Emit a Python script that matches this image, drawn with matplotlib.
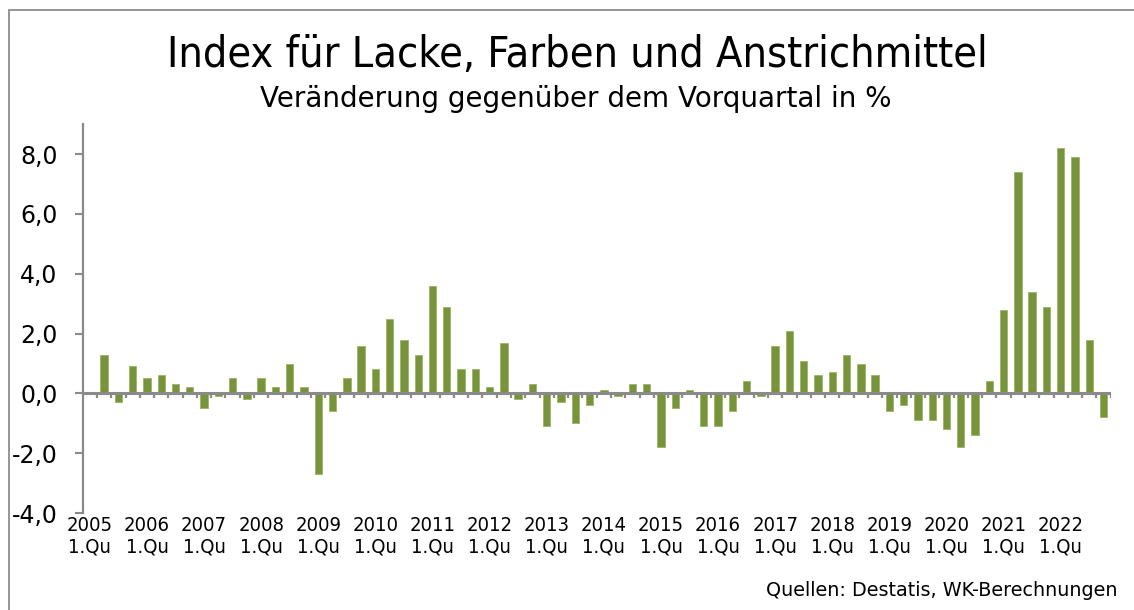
import numpy as np
import matplotlib
matplotlib.use("Agg")
import matplotlib.pyplot as plt
from matplotlib.patches import Rectangle

# ---- data -------------------------------------------------------------
years = list(range(2005, 2023))
quarters = ["1.Qu", "2.Qu", "3.Qu", "4.Qu"]
# Veränderung gegenüber dem Vorquartal in % (2005 1.Qu: keine Angabe)
values_2005 = [np.nan, 1.3, -0.3, 0.9]
values_2006 = [0.5, 0.6, 0.3, 0.2]
values_2007 = [-0.5, -0.1, 0.5, -0.2]
values_2008 = [0.5, 0.2, 1.0, 0.2]
values_2009 = [-2.7, -0.6, 0.5, 1.6]
values_2010 = [0.8, 2.5, 1.8, 1.3]
values_2011 = [3.6, 2.9, 0.8, 0.8]
values_2012 = [0.2, 1.7, -0.2, 0.3]
values_2013 = [-1.1, -0.3, -1.0, -0.4]
values_2014 = [0.1, -0.1, 0.3, 0.3]
values_2015 = [-1.8, -0.5, 0.1, -1.1]
values_2016 = [-1.1, -0.6, 0.4, -0.1]
values_2017 = [1.6, 2.1, 1.1, 0.6]
values_2018 = [0.7, 1.3, 1.0, 0.6]
values_2019 = [-0.6, -0.4, -0.9, -0.9]
values_2020 = [-1.2, -1.8, -1.4, 0.4]
values_2021 = [2.8, 7.4, 3.4, 2.9]
values_2022 = [8.2, 7.9, 1.8, -0.8]

yticks = [-4, -2, 0, 2, 4, 6, 8]
ytick_labels = ["-4,0", "-2,0", "0,0", "2,0", "4,0", "6,0", "8,0"]

title = "Index für Lacke, Farben und Anstrichmittel"
subtitle = "Veränderung gegenüber dem Vorquartal in %"
source = "Quellen: Destatis, WK-Berechnungen"

# ---- assemble ---------------------------------------------------------
values = (values_2005 + values_2006 + values_2007 + values_2008 + values_2009 +
          values_2010 + values_2011 + values_2012 + values_2013 + values_2014 +
          values_2015 + values_2016 + values_2017 + values_2018 + values_2019 +
          values_2020 + values_2021 + values_2022)
values = np.array(values, dtype=float)
x = np.arange(len(values))

plt.rcParams['font.family'] = ['DejaVu Sans']

W, H = 1134, 610
fig = plt.figure(figsize=(W / 100, H / 100), dpi=100)
fig.patch.set_facecolor("white")

# outer frame
fig.patches.append(Rectangle((9 / W, -0.1), 1.2, (H - 10) / H + 0.1,
                             transform=fig.transFigure, fill=False,
                             edgecolor="#8c8c8c", linewidth=1.3))

left, right = 82.7 / W, 1110.7 / W
top, bottom = 1 - 124.3 / H, 1 - 513 / H
ax = fig.add_axes([left, bottom, right - left, top - bottom])

bar_color = "#77933C"
ax.bar(x, values, width=0.52, color=bar_color, edgecolor="#9bb565",
       linewidth=0.6, zorder=3)

ax.set_xlim(-0.5, len(values) - 0.5)
ax.set_ylim(-4, 9)

# zero axis line & category boundary ticks
ax.axhline(0, color="#8a8a8a", linewidth=2.2, zorder=4)
bounds = np.arange(-0.5, len(values) + 0.5, 1.0)
ax.vlines(bounds[1:], 0, -0.17, color="#8a8a8a", linewidth=1.6, zorder=4)

# y axis
for s in ["top", "right", "bottom"]:
    ax.spines[s].set_visible(False)
ax.spines["left"].set_color("#8a8a8a")
ax.spines["left"].set_linewidth(1.6)
ax.set_yticks(yticks)
ax.set_yticklabels(ytick_labels, fontsize=17)
ax.tick_params(axis="y", length=6, width=1.5, color="#8a8a8a", pad=12)

# x labels: every 1st quarter
xt = np.arange(0, len(values), 4)
ax.set_xticks(xt)
ax.set_xticklabels([f"{years[i // 4]}\n{quarters[0]}" for i in xt],
                   fontsize=14.5, linespacing=1.2, fontstretch="condensed")
ax.tick_params(axis="x", length=0, pad=2)

# titles
fig.text(0.509, 1 - 55 / H, title, ha="center", va="center", fontsize=31,
         fontstretch="condensed")
fig.text(0.508, 1 - 99 / H, subtitle, ha="center", va="center", fontsize=20)
fig.text(1118 / W, 1 - 591 / H, source, ha="right", va="center", fontsize=13.8)

fig.savefig("out.png", dpi=100)
